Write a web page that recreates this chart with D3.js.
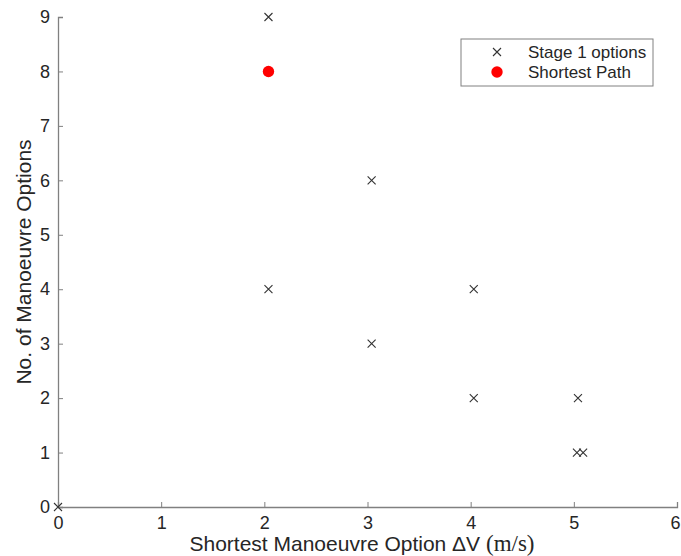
<!DOCTYPE html>
<html>
<head>
<meta charset="utf-8">
<script src="https://cdn.jsdelivr.net/npm/d3@7"></script>
<style>
  body { margin: 0; background: #fff; }
  text { font-family: "Liberation Sans", Arial, sans-serif; fill: #262626; }
</style>
</head>
<body>
<div id="chart"></div>
<script>
// stage 1 options (dV in m/s, number of manoeuvre options)
var optionDv = [0, 2.04, 2.04, 3.04, 3.04, 4.03, 4.03, 5.04, 5.03, 5.09];
var optionCount = [0, 9, 4, 6, 3, 4, 2, 2, 1, 1];
// the shortest path
var pathDv = [2.04];
var pathCount = [8];
var xTicks = [0, 1, 2, 3, 4, 5, 6];
var yTicks = [0, 1, 2, 3, 4, 5, 6, 7, 8, 9];
var legendLabels = ['Stage 1 options', 'Shortest Path'];

var width = 681, height = 556;
var margin = {left: 58, right: 4, top: 17, bottom: 49};
var axisColor = '#808080';

var svg = d3.select('#chart').append('svg').attr('width', width).attr('height', height);

var x = d3.scaleLinear().domain([0, 6]).range([margin.left, width - margin.right]);
var y = d3.scaleLinear().domain([0, 9]).range([height - margin.bottom, margin.top]);

// axes, ticks pointing inward like matlab
var xAxis = svg.append('g')
   .attr('transform', 'translate(0,' + y(0) + ')')
   .call(d3.axisBottom(x).tickValues(xTicks).tickSize(-5).tickPadding(9).tickFormat(d3.format('d')));
var yAxis = svg.append('g')
   .attr('transform', 'translate(' + x(0) + ',0)')
   .call(d3.axisLeft(y).tickValues(yTicks).tickSize(-5).tickPadding(8).tickFormat(d3.format('d')));

[xAxis, yAxis].forEach(function(a) {
   a.select('.domain').attr('stroke', axisColor).attr('stroke-width', 1.3);
   a.selectAll('.tick line').attr('stroke', axisColor).attr('stroke-width', 1);
   a.selectAll('.tick text').style('font-size', '18px').attr('fill', '#262626')
      .style('font-family', '"Liberation Sans", Arial, sans-serif');
});
// keep the last x label inside the page
xAxis.selectAll('.tick text').filter(function(d) { return d === 6; }).attr('dx', -2);

// axis labels
var xl = svg.append('text')
   .attr('x', 362)
   .attr('y', 551)
   .attr('text-anchor', 'middle')
   .style('font-size', '21px');
xl.append('tspan').text('Shortest Manoeuvre Option \u0394V ');
xl.append('tspan').style('font-family', '"Liberation Serif", "Times New Roman", serif')
   .style('font-size', '23px').text('(m/s)');

svg.append('text')
   .attr('transform', 'translate(31,262) rotate(-90)')
   .attr('text-anchor', 'middle')
   .style('font-size', '21px')
   .text('No. of Manoeuvre Options');

// cross marker
function cross(g, s) {
   g.append('path')
      .attr('d', 'M' + (-s) + ',' + (-s) + 'L' + s + ',' + s + 'M' + (-s) + ',' + s + 'L' + s + ',' + (-s))
      .attr('stroke', '#333').attr('stroke-width', 1.1).attr('fill', 'none');
}

var options = optionDv.map(function(d, i) { return {dv: d, n: optionCount[i]}; });
svg.selectAll('g.opt')
   .data(options)
   .enter()
   .append('g')
   .attr('class', 'opt')
   .attr('transform', function(d) { return 'translate(' + x(d.dv) + ',' + y(d.n) + ')'; })
   .each(function() { cross(d3.select(this), 4); });

svg.selectAll('circle.path')
   .data(pathDv)
   .enter()
   .append('circle')
   .attr('class', 'path')
   .attr('cx', function(d) { return x(d); })
   .attr('cy', function(d, i) { return y(pathCount[i]); })
   .attr('r', 5.7)
   .attr('fill', '#ff0000');

// legend
var legend = svg.append('g').attr('transform', 'translate(461,39)');
legend.append('rect')
   .attr('width', 192).attr('height', 47)
   .attr('fill', '#fff').attr('stroke', axisColor).attr('stroke-width', 1);
legend.selectAll('text')
   .data(legendLabels)
   .enter()
   .append('text')
   .attr('x', 67)
   .attr('y', function(d, i) { return 13 + i * 20; })
   .attr('dy', '0.35em')
   .style('font-size', '17px')
   .text(function(d) { return d; });
var lc = legend.append('g').attr('transform', 'translate(36,13)');
cross(lc, 4);
legend.append('circle').attr('cx', 36).attr('cy', 33).attr('r', 5.7).attr('fill', '#ff0000');
</script>
</body>
</html>
